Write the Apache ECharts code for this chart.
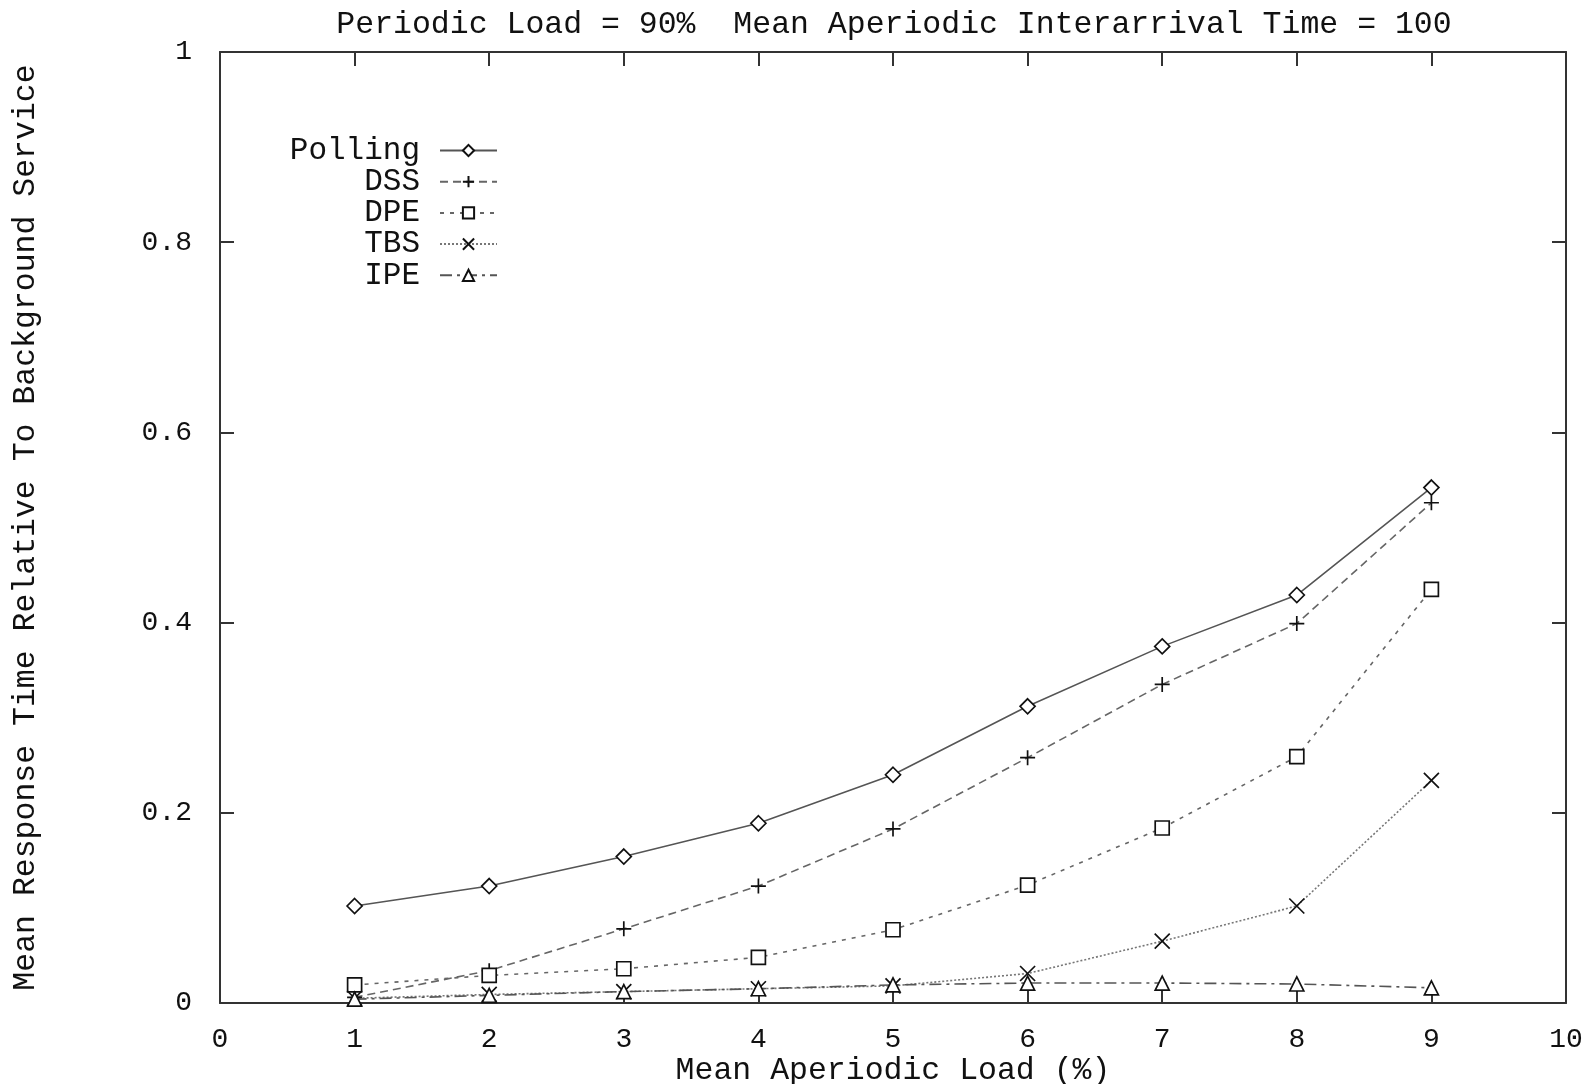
<!DOCTYPE html>
<html>
<head>
<meta charset="utf-8">
<script src="https://cdn.jsdelivr.net/npm/echarts@6/dist/echarts.min.js"></script>
<style>html,body{margin:0;padding:0;background:#fff}#c{width:1585px;height:1084px}</style>
</head>
<body>
<div id="c"></div>
<script>
const xValues = [1, 2, 3, 4, 5, 6, 7, 8, 9];
const polling = [0.102, 0.123, 0.154, 0.189, 0.240, 0.312, 0.375, 0.429, 0.542];
const dss     = [0.006, 0.034, 0.078, 0.123, 0.183, 0.258, 0.335, 0.399, 0.526];
const dpe     = [0.019, 0.029, 0.036, 0.048, 0.077, 0.124, 0.184, 0.259, 0.435];
const tbs     = [0.005, 0.009, 0.012, 0.015, 0.018, 0.031, 0.065, 0.102, 0.234];
const ipe     = [0.004, 0.008, 0.012, 0.015, 0.019, 0.021, 0.021, 0.020, 0.016];
const seriesNames = ['Polling', 'DSS', 'DPE', 'TBS', 'IPE'];
const titleText = 'Periodic Load = 90%  Mean Aperiodic Interarrival Time = 100';
const xName = 'Mean Aperiodic Load (%)';
const yName = 'Mean Response Time Relative To Background Service';

const FONT = '"Liberation Mono", "DejaVu Sans Mono", monospace';
const FS = 31.5;
const FS_TICK = 28;
const pair = arr => xValues.map((x, i) => [x, arr[i]]);

const plusPath = 'path://M0,5 L10,5 M5,0 L5,10';
const crossPath = 'path://M0,0 L10,10 M0,10 L10,0';

function mk(name, data, symbol, size, dash, lineColor) {
  return {
    name: name, type: 'line', data: pair(data),
    symbol: symbol, symbolSize: size, showSymbol: true,
    lineStyle: { color: lineColor, width: 1.6, type: dash },
    itemStyle: { color: '#fff', borderColor: '#111', borderWidth: 1.7 },
    emphasis: { disabled: true },
    animation: false, z: 3
  };
}

const chart = echarts.init(document.getElementById('c'), null, { renderer: 'canvas' });
const axisLineStyle = { color: '#333', width: 2 };
chart.setOption({
  backgroundColor: '#fff',
  animation: false,
  title: {
    text: titleText, left: 894, top: 9, padding: 0, textAlign: 'center',
    textStyle: { fontFamily: FONT, fontSize: FS, fontWeight: 'normal', color: '#111' }
  },
  grid: { left: 220, right: 19, top: 52, bottom: 81, containLabel: false, outerBoundsMode: 'none' },
  legend: {
    data: seriesNames,
    orient: 'vertical', align: 'right',
    right: 1087, top: 135, padding: 0,
    itemWidth: 57, itemHeight: 14, itemGap: 0.2,
    selectedMode: false,
    textStyle: { fontFamily: FONT, fontSize: 31, color: '#111', lineHeight: 22, padding: [0, 15, 0, 0] }
  },
  xAxis: [{
    type: 'value', min: 0, max: 10, interval: 1, position: 'bottom',
    name: xName, nameLocation: 'middle', nameGap: 52, nameMoveOverlap: false,
    nameTextStyle: { fontFamily: FONT, fontSize: FS, color: '#111' },
    axisLine: { show: true, onZero: false, lineStyle: axisLineStyle },
    axisTick: { show: true, inside: true, length: 14, lineStyle: axisLineStyle },
    axisLabel: { margin: 23, fontFamily: FONT, fontSize: FS_TICK, color: '#111' },
    splitLine: { show: false }
  }, {
    type: 'value', min: 0, max: 10, interval: 1, position: 'top',
    axisLine: { show: true, onZero: false, lineStyle: axisLineStyle },
    axisTick: { show: true, inside: true, length: 14, lineStyle: axisLineStyle },
    axisLabel: { show: false }, splitLine: { show: false }
  }],
  yAxis: [{
    type: 'value', min: 0, max: 1, interval: 0.2, position: 'left',
    name: yName, nameLocation: 'middle', nameGap: 178, nameMoveOverlap: false,
    nameTextStyle: { fontFamily: FONT, fontSize: FS, color: '#111' },
    axisLine: { show: true, onZero: false, lineStyle: axisLineStyle },
    axisTick: { show: true, inside: true, length: 14, lineStyle: axisLineStyle },
    axisLabel: { margin: 28, fontFamily: FONT, fontSize: FS_TICK, color: '#111',
      formatter: v => (v === 0 || v === 1) ? String(v) : v.toFixed(1) },
    splitLine: { show: false }
  }, {
    type: 'value', min: 0, max: 1, interval: 0.2, position: 'right',
    axisLine: { show: true, onZero: false, lineStyle: axisLineStyle },
    axisTick: { show: true, inside: true, length: 14, lineStyle: axisLineStyle },
    axisLabel: { show: false }, splitLine: { show: false }
  }],
  series: [
    mk('Polling', polling, 'diamond', 15, 'solid', '#555'),
    mk('DSS', dss, plusPath, 15, [8, 5], '#666'),
    mk('DPE', dpe, 'rect', 14, [4, 6], '#666'),
    mk('TBS', tbs, crossPath, 15, [2, 2], '#777'),
    mk('IPE', ipe, 'triangle', 14, [12, 5, 3, 5], '#555')
  ]
});
</script>
</body>
</html>
